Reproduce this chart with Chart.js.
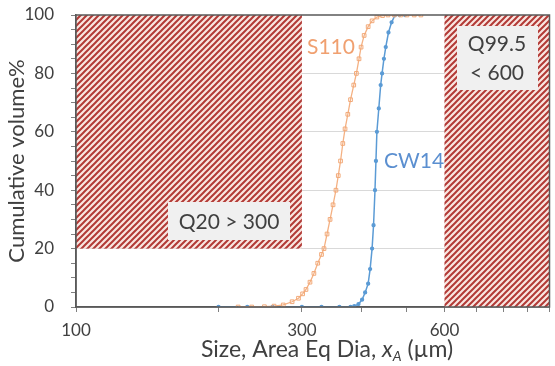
<!DOCTYPE html>
<html>
<head>
<meta charset="utf-8">
<script src="https://cdn.jsdelivr.net/npm/chart.js@4/dist/chart.umd.min.js"></script>
<style>
  html, body { margin: 0; padding: 0; background: #fff; }
  #wrap { width: 555px; height: 366px; }
</style>
</head>
<body>
<div id="wrap"><canvas id="chart"></canvas></div>
<script>
// particle size (um) and cumulative volume %
const s110Size = [220, 235, 250, 262, 274, 286, 295, 301, 306, 312, 318, 324, 330, 334, 339, 344, 349, 354, 358, 362, 366, 370, 375, 380, 386, 391, 396, 400, 406, 414, 422, 432, 444, 456, 470, 485, 500, 518, 535];
const s110Cum  = [0, 0, 0.1, 0.3, 0.7, 1.8, 3, 4.5, 6, 8.5, 11.5, 15, 18, 20, 25, 30, 35, 40, 45, 50, 56, 61, 66, 71, 76, 80, 85, 89, 93, 96, 98, 99.3, 99.8, 100, 100, 100, 100, 100, 100];

const cw14Size = [200, 230, 260, 300, 330, 360, 380, 387, 395, 402, 408, 414, 418, 422, 425, 428, 430, 432, 436, 440, 443, 447, 451, 457, 464, 472, 482, 495];
const cw14Cum  = [0, 0, 0, 0, 0, 0, 0, 0.3, 1, 2.5, 5, 8, 13, 20, 28, 40, 50, 60, 68, 76, 80, 85, 89, 94, 97.5, 100, 100, 100];

const xTickValues = [100, 200, 300, 400, 500, 600, 700, 800, 900, 1000];
const xTickLabels = [100, 300, 600];

// spec limits: size range and volume range of each hatched zone
const zoneX = [[100, 300], [600, 1000]];
const zoneY = [[20, 100], [0, 100]];

const FONT = 'Lato, "Open Sans", sans-serif';
const TEXT = '#404040';

function toPoints(xs, ys) {
    return xs.map((x, i) => ({x: x, y: ys[i]}));
}

function hatchPattern(ctx) {
    const t = document.createElement('canvas');
    t.width = 6;
    t.height = 6;
    const c = t.getContext('2d');
    c.fillStyle = '#f9e6e1';
    c.fillRect(0, 0, 6, 6);
    c.strokeStyle = '#b23a36';
    c.lineWidth = 2;
    c.beginPath();
    c.moveTo(-1, 7); c.lineTo(7, -1);
    c.moveTo(-1, 1); c.lineTo(1, -1);
    c.moveTo(5, 7); c.lineTo(7, 5);
    c.stroke();
    return ctx.createPattern(t, 'repeat');
}

const decorations = {
    id: 'decorations',
    beforeDatasetsDraw(chart) {
        const {ctx, scales: {x, y}} = chart;
        ctx.save();
        ctx.fillStyle = hatchPattern(ctx);
        for (let i = 0; i < zoneX.length; i++) {
            const l = x.getPixelForValue(zoneX[i][0]);
            const r = x.getPixelForValue(zoneX[i][1]);
            const t = y.getPixelForValue(zoneY[i][1]);
            const b = y.getPixelForValue(zoneY[i][0]);
            ctx.fillRect(l, t, r - l, b - t);
        }
        ctx.restore();
    },
    afterDraw(chart) {
        const {ctx, chartArea: a} = chart;
        ctx.save();

        // label boxes
        ctx.fillStyle = '#f0f0f0';
        ctx.fillRect(168, 202, 122, 38);
        ctx.fillRect(457, 26, 81, 64);
        ctx.fillStyle = TEXT;
        ctx.font = '21px ' + FONT;
        ctx.textAlign = 'center';
        ctx.textBaseline = 'middle';
        ctx.fillText('Q20 > 300', 229, 222);
        ctx.fillText('Q99.5', 497, 44);
        ctx.fillText('< 600', 497, 73);

        // series labels
        ctx.fillStyle = '#f0a070';
        ctx.fillText('S110', 331, 47);
        ctx.fillStyle = '#5b8fd0';
        ctx.fillText('CW14', 414, 161);

        // frame
        ctx.strokeStyle = '#595959';
        ctx.lineWidth = 1.5;
        ctx.strokeRect(a.left, a.top, a.right - a.left, a.bottom - a.top);

        // y title
        ctx.fillStyle = TEXT;
        ctx.translate(17, 161);
        ctx.rotate(-Math.PI / 2);
        ctx.font = '22px ' + FONT;
        ctx.fillText('Cumulative volume%', 0, 0);
        ctx.setTransform(1, 0, 0, 1, 0, 0);

        // x title with italic x and subscript A
        const parts = [
            {t: 'Size, Area Eq Dia, ', f: '23px ' + FONT, dy: 0},
            {t: 'x', f: 'italic 23px ' + FONT, dy: 0},
            {t: 'A', f: 'italic 14px ' + FONT, dy: 4},
            {t: ' (\u00b5m)', f: '23px ' + FONT, dy: 0}
        ];
        let w = 0;
        parts.forEach(p => { ctx.font = p.f; p.w = ctx.measureText(p.t).width; w += p.w; });
        let px = 327 - w / 2;
        ctx.textAlign = 'left';
        ctx.textBaseline = 'alphabetic';
        parts.forEach(p => { ctx.font = p.f; ctx.fillText(p.t, px, 357 + p.dy); px += p.w; });
        ctx.restore();
    }
};

new Chart(document.getElementById('chart'), {
    type: 'line',
    data: {
        datasets: [
            {
                label: 'S110',
                data: toPoints(s110Size, s110Cum),
                borderColor: '#f4b183',
                borderWidth: 1.3,
                pointStyle: 'rect',
                pointRadius: 2.6,
                pointBorderColor: '#f2a978',
                pointBackgroundColor: 'rgba(255,255,255,0)',
                pointBorderWidth: 1,
                tension: 0
            },
            {
                label: 'CW14',
                data: toPoints(cw14Size, cw14Cum),
                borderColor: '#5b9bd5',
                borderWidth: 1.5,
                pointRadius: 1.4,
                pointBackgroundColor: '#5b9bd5',
                pointBorderColor: '#5b9bd5',
                tension: 0
            }
        ]
    },
    options: {
        responsive: true,
        maintainAspectRatio: false,
        animation: false,
        layout: {padding: {left: 0, right: 2, top: 15, bottom: 0}},
        plugins: {
            legend: {display: false},
            tooltip: {enabled: false}
        },
        scales: {
            x: {
                type: 'logarithmic',
                min: 100,
                max: 1000,
                afterBuildTicks: s => { s.ticks = xTickValues.map(v => ({value: v})); },
                afterFit: s => { s.height = 59; s.paddingLeft = 0; s.paddingRight = 0; },
                ticks: {
                    autoSkip: false,
                    maxRotation: 0,
                    padding: 8,
                    color: TEXT,
                    font: {family: FONT, size: 17},
                    callback: v => xTickLabels.includes(v) ? String(v) : ''
                },
                grid: {drawOnChartArea: false, tickColor: '#808080', tickLength: 5},
                border: {color: '#595959', width: 1.5}
            },
            y: {
                min: 0,
                max: 100,
                afterFit: s => { s.width = 76; s.paddingTop = 0; s.paddingBottom = 0; },
                ticks: {
                    stepSize: 5,
                    autoSkip: false,
                    padding: 17,
                    color: TEXT,
                    font: {family: FONT, size: 17},
                    callback: v => v % 20 === 0 ? String(v) : ''
                },
                grid: {
                    color: c => (c.tick && c.tick.value % 20 === 0 && c.tick.value > 0 && c.tick.value < 100) ? '#d9d9d9' : 'rgba(0,0,0,0)',
                    tickColor: '#808080',
                    tickLength: 5
                },
                border: {color: '#595959', width: 1.5}
            }
        }
    },
    plugins: [decorations]
});
</script>
</body>
</html>
